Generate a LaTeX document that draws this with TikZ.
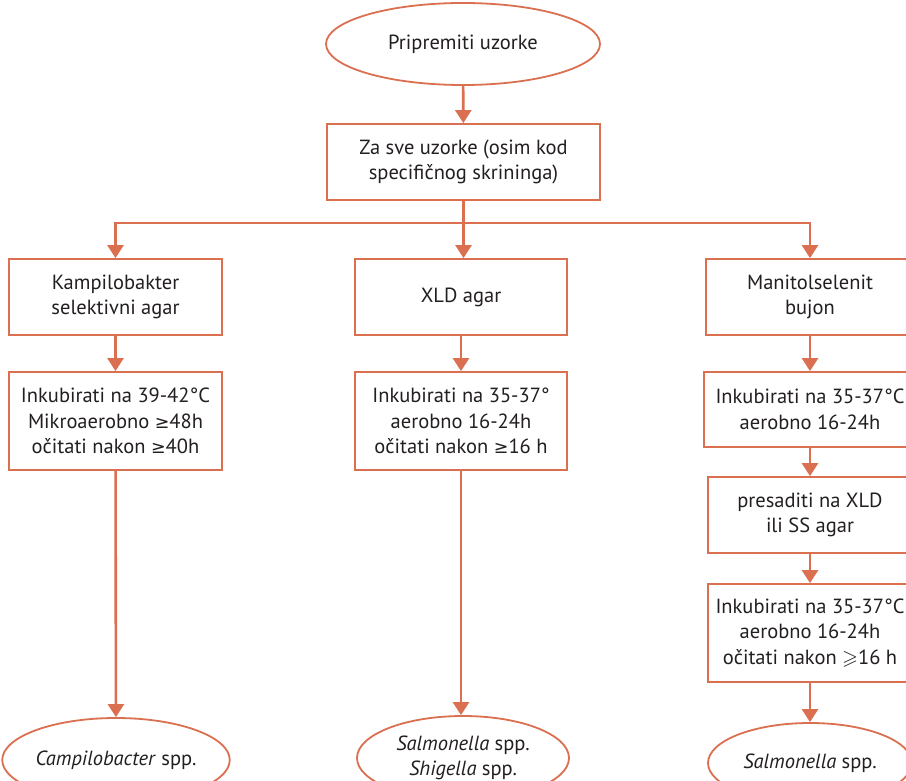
\documentclass[tikz,border=0pt]{standalone}
\usepackage{fontspec}
\setmainfont{PT Sans}
\newfontfamily\symfont{DejaVu Sans}
\newcommand{\gexx}{{\symfont\fontsize{17.5}{25}\selectfont ≥}}
\usepackage{amssymb}
\usetikzlibrary{shapes.geometric,arrows.meta}
\definecolor{accent}{RGB}{219,112,81}
\definecolor{ink}{RGB}{35,31,32}
\begin{document}
\begin{tikzpicture}[x=1pt,y=-1pt,
  every node/.style={text=ink,font=\fontsize{20.5}{25.5}\selectfont,align=center,inner sep=0pt},
  stepbox/.style={draw=accent,line width=1.8pt,rectangle},
  oval/.style={draw=accent,line width=1.8pt,ellipse},
  arr/.style={draw=accent,line width=2.6pt,-{Triangle[length=13pt,width=16pt]}},
  ln/.style={draw=accent,line width=2.6pt}]
\useasboundingbox (0,0) rectangle (906,781);
\fill[white] (0,0) rectangle (906,781);
% top
\node[oval,minimum width=274pt,minimum height=82pt] (prep) at (463,44) {Pripremiti uzorke};
\node[stepbox,minimum width=273pt,minimum height=76pt] (za) at (463.5,162) {Za sve uzorke (osim kod\\specifičnog skrininga)};
% left column
\node[stepbox,minimum width=213pt,minimum height=76pt] (kamp) at (115.5,297) {Kampilobakter\\selektivni agar};
\node[stepbox,minimum width=213pt,minimum height=98pt] (inkl) at (115.5,421) {Inkubirati na 39-42°C\\Mikroaerobno \gexx48h\\očitati nakon \gexx40h};
\node[oval,minimum width=214pt,minimum height=84pt] (camp) at (116,760) {\textit{Campilobacter} spp.};
% middle column
\node[stepbox,minimum width=212pt,minimum height=76pt] (xld) at (461,297) {XLD agar};
\node[stepbox,minimum width=212pt,minimum height=98pt] (inkm) at (461,421) {Inkubirati na 35-37°\\aerobno 16-24h\\očitati nakon \gexx16 h};
\node[oval,minimum width=212pt,minimum height=84pt] (salsh) at (463,758) {\textit{Salmonella} spp.\\\textit{Shigella} spp.};
% right column
\node[stepbox,minimum width=208pt,minimum height=76pt] (mani) at (810,297) {Manitolselenit\\bujon};
\node[stepbox,minimum width=212pt,minimum height=75pt] (inkr1) at (810,409.5) {Inkubirati na 35-37°C\\aerobno 16-24h};
\node[stepbox,minimum width=204pt,minimum height=76pt] (pres) at (810,515) {presaditi na XLD\\ili SS agar};
\node[stepbox,minimum width=204pt,minimum height=98pt] (inkr2) at (810,633) {Inkubirati na 35-37°C\\aerobno 16-24h\\očitati nakon $\geqslant$16 h};
\node[oval,minimum width=204pt,minimum height=80pt] (sal) at (810,763) {\textit{Salmonella} spp.};
% connectors
\coordinate (split) at (463,223);
\draw[arr] (prep) -- (za);
\draw[arr] (za) -- (xld.north -| za);
\draw[arr] (split) -| (kamp.north);
\draw[arr] (split) -| (mani.north);
\draw[arr] (kamp) -- (inkl);
\draw[arr] (inkl) -- (camp);
\draw[arr] (xld) -- (inkm);
\draw[arr] (inkm.south) -- (inkm.south |- salsh.north);
\draw[arr] (mani) -- (inkr1);
\draw[arr] (inkr1) -- (pres);
\draw[arr] (pres) -- (inkr2);
\draw[arr] (inkr2) -- (sal);
\end{tikzpicture}
\end{document}
